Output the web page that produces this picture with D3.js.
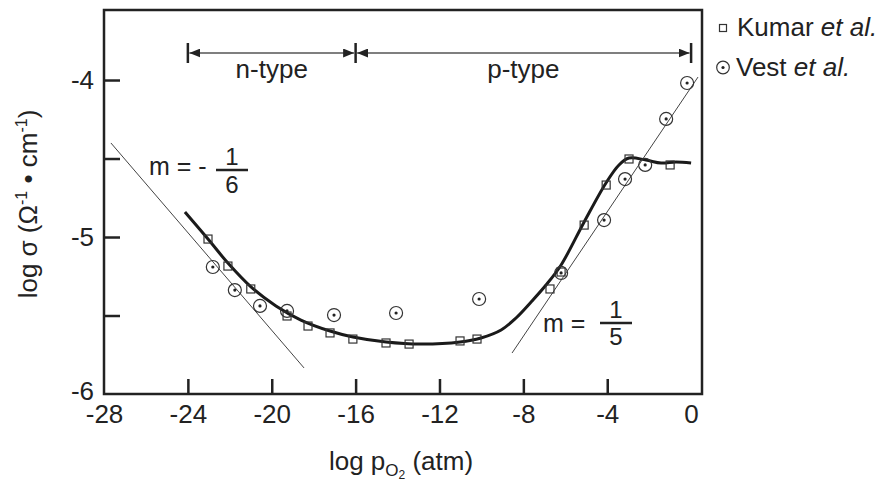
<!DOCTYPE html>
<html>
<head>
  <meta charset="UTF-8">
  <script src="https://d3js.org/d3.v7.min.js"></script>
  <style>
    body { margin: 0; background: #fff; }
    text { font-family: "Liberation Sans", Arial, sans-serif; fill: #222; }
  </style>
</head>
<body>
  <svg width="891" height="483" id="chart">
    <defs>
      <marker id="head" markerWidth="11" markerHeight="9" refX="11" refY="4.5" orient="auto-start-reverse" markerUnits="userSpaceOnUse">
        <path d="M 0 0 L 11 4.5 L 0 9 Z" fill="#222" />
      </marker>
    </defs>
  </svg>

  <script>
    // data
    let xTicks = [-28, -24, -20, -16, -12, -8, -4, 0];
    let yTicks = [-6, -5.5, -5, -4.5, -4];

    let kumarX = [-23.04, -22.09, -21.0, -19.27, -18.27, -17.22, -16.13, -14.55, -13.45, -11.02, -10.21, -6.73, -6.20, -5.10, -4.05, -2.96, -1.00];
    let kumarY = [-5.013, -5.185, -5.331, -5.503, -5.567, -5.611, -5.650, -5.675, -5.682, -5.662, -5.650, -5.331, -5.223, -4.924, -4.669, -4.503, -4.541];

    let vestX = [-22.81, -21.76, -20.56, -19.27, -17.03, -14.07, -10.11, -6.20, -4.15, -3.15, -2.19, -1.19, -0.19];
    let vestY = [-5.191, -5.338, -5.439, -5.471, -5.497, -5.484, -5.395, -5.229, -4.892, -4.631, -4.541, -4.248, -4.019];

    // thick fitted curve
    let fitX = [-24.14, -23.04, -22.09, -20.99, -19.80, -18.61, -17.22, -16.13, -14.55, -12.88, -11.02, -10.02, -9.06, -8.35, -7.63, -6.92, -6.20, -5.10, -4.06, -3.44, -2.96, -2.15, -1.43, -0.72, 0];
    let fitY = [-4.841, -5.013, -5.166, -5.318, -5.439, -5.529, -5.599, -5.637, -5.669, -5.682, -5.669, -5.643, -5.592, -5.516, -5.414, -5.306, -5.178, -4.904, -4.656, -4.541, -4.497, -4.510, -4.529, -4.522, -4.529];

    // slope lines
    let nLineX = [-27.67, -18.46];
    let nLineY = [-4.401, -5.834];
    let pLineX = [-8.54, 0.33];
    let pLineY = [-5.739, -3.981];

    let regionBounds = [-24, -16, 0];
    let regionNames = ["n-type", "p-type"];

    let svg = d3.select("#chart");
    let plotLeft = 104, plotRight = 702, plotTop = 10, plotBottom = 394;

    let x = d3.scaleLinear().domain([-28, 0.52]).range([plotLeft, plotRight]);
    let y = d3.scaleLinear().domain([-6, -3.554]).range([plotBottom, plotTop]);

    // axes (ticks point inward)
    let xAxis = svg.append("g")
      .attr("transform", `translate(0, ${plotBottom})`)
      .call(d3.axisBottom(x).tickValues(xTicks).tickSizeInner(-15).tickSizeOuter(0).tickPadding(11).tickFormat(d => d));
    xAxis.select(".domain").remove();
    xAxis.selectAll(".tick").filter(d => d == -28 || d == 0).select("line").remove();

    let yAxis = svg.append("g")
      .attr("transform", `translate(${plotLeft}, 0)`)
      .call(d3.axisLeft(y).tickValues(yTicks).tickSizeInner(-16).tickSizeOuter(0).tickPadding(10)
        .tickFormat(d => Number.isInteger(d) ? d : ""));
    yAxis.select(".domain").remove();
    let bottomTick = yAxis.selectAll(".tick").filter(d => d == -6);
    bottomTick.select("line").remove();
    bottomTick.select("text").attr("y", -3);

    svg.selectAll(".tick line").attr("stroke", "#222").attr("stroke-width", 2.5);
    svg.selectAll(".tick text").attr("font-size", 26).attr("fill", "#222")
      .style("font-family", '"Liberation Sans", Arial, sans-serif');

    // frame
    svg.append("rect")
      .attr("x", plotLeft).attr("y", plotTop)
      .attr("width", plotRight - plotLeft).attr("height", plotBottom - plotTop)
      .attr("fill", "none").attr("stroke", "#222").attr("stroke-width", 2.5);

    // slope lines
    let plain = d3.line().x(d => x(d[0])).y(d => y(d[1]));
    svg.append("path")
      .attr("d", plain(d3.zip(nLineX, nLineY)))
      .attr("fill", "none").attr("stroke", "#444").attr("stroke-width", 1);
    svg.append("path")
      .attr("d", plain(d3.zip(pLineX, pLineY)))
      .attr("fill", "none").attr("stroke", "#444").attr("stroke-width", 1);

    // thick curve
    let smooth = d3.line().x(d => x(d[0])).y(d => y(d[1])).curve(d3.curveCatmullRom);
    svg.append("path")
      .attr("d", smooth(d3.zip(fitX, fitY)))
      .attr("fill", "none").attr("stroke", "#1a1a1a").attr("stroke-width", 3);

    // Kumar squares
    svg.selectAll(".kumar")
      .data(d3.zip(kumarX, kumarY))
      .enter()
      .append("rect")
      .attr("class", "kumar")
      .attr("x", d => x(d[0]) - 4)
      .attr("y", d => y(d[1]) - 4)
      .attr("width", 8).attr("height", 8)
      .attr("fill", "none").attr("stroke", "#333").attr("stroke-width", 1.2);

    // Vest circles with centre dot
    let vest = svg.selectAll(".vest")
      .data(d3.zip(vestX, vestY))
      .enter()
      .append("g")
      .attr("class", "vest")
      .attr("transform", d => `translate(${x(d[0])}, ${y(d[1])})`);
    vest.append("circle").attr("r", 6.5).attr("fill", "none").attr("stroke", "#333").attr("stroke-width", 1.2);
    vest.append("circle").attr("r", 1.6).attr("fill", "#222");

    // n-type / p-type range arrows
    let arrowY = 53;
    svg.selectAll(".bound")
      .data(regionBounds)
      .enter()
      .append("line")
      .attr("x1", d => x(d)).attr("x2", d => x(d))
      .attr("y1", arrowY - 10).attr("y2", arrowY + 10)
      .attr("stroke", "#222").attr("stroke-width", 2.5);

    regionNames.forEach(function(name, i) {
      let a = x(regionBounds[i]) + 1.5, b = x(regionBounds[i + 1]) - 1.5;
      svg.append("line")
        .attr("x1", a).attr("x2", b)
        .attr("y1", arrowY).attr("y2", arrowY)
        .attr("stroke", "#555").attr("stroke-width", 1.5)
        .attr("marker-start", "url(#head)")
        .attr("marker-end", "url(#head)");
      svg.append("text")
        .attr("x", (x(regionBounds[i]) + x(regionBounds[i + 1])) / 2)
        .attr("y", 78)
        .attr("text-anchor", "middle")
        .attr("font-size", 26)
        .text(name);
    });

    // slope labels
    function slopeLabel(tx, ty, prefix, fx, num, numY, barY, den, denY) {
      let g = svg.append("g");
      g.append("text").attr("x", tx).attr("y", ty).attr("font-size", 25).text(prefix);
      g.append("line").attr("x1", fx - 16).attr("x2", fx + 16)
        .attr("y1", barY).attr("y2", barY)
        .attr("stroke", "#222").attr("stroke-width", 2.5);
      g.append("text").attr("x", fx).attr("y", numY).attr("text-anchor", "middle").attr("font-size", 24).text(num);
      g.append("text").attr("x", fx).attr("y", denY).attr("text-anchor", "middle").attr("font-size", 24).text(den);
    }
    slopeLabel(149, 175, "m = -", 232, "1", 165, 170, "6", 193);
    slopeLabel(543, 332, "m =", 616, "1", 318, 323, "5", 345);

    // legend
    svg.append("rect").attr("x", 719.5).attr("y", 24.5).attr("width", 7).attr("height", 7)
      .attr("fill", "none").attr("stroke", "#333").attr("stroke-width", 1.2);
    let kt = svg.append("text").attr("x", 737).attr("y", 36).attr("font-size", 26);
    kt.append("tspan").text("Kumar ");
    kt.append("tspan").attr("font-style", "italic").text("et al.");

    svg.append("circle").attr("cx", 723).attr("cy", 67.5).attr("r", 6.3)
      .attr("fill", "none").attr("stroke", "#333").attr("stroke-width", 1.2);
    svg.append("circle").attr("cx", 723).attr("cy", 67.5).attr("r", 1.6).attr("fill", "#222");
    let vt = svg.append("text").attr("x", 736).attr("y", 76).attr("font-size", 26);
    vt.append("tspan").text("Vest ");
    vt.append("tspan").attr("font-style", "italic").text("et al.");

    // axis titles
    let xt = svg.append("text").attr("x", 401).attr("y", 470).attr("text-anchor", "middle").attr("font-size", 26);
    xt.append("tspan").text("log p");
    xt.append("tspan").attr("font-size", 17).attr("dy", 6).text("O");
    xt.append("tspan").attr("font-size", 12).attr("dy", 3).text("2");
    xt.append("tspan").attr("dy", -9).text(" (atm)");

    let yt = svg.append("text")
      .attr("transform", "translate(37, 204) rotate(-90)")
      .attr("text-anchor", "middle").attr("font-size", 26);
    yt.append("tspan").text("log σ (Ω");
    yt.append("tspan").attr("font-size", 16).attr("dy", -10).text("-1");
    yt.append("tspan").attr("dy", 10).text(" • cm");
    yt.append("tspan").attr("font-size", 16).attr("dy", -10).text("-1");
    yt.append("tspan").attr("dy", 10).text(")");
  </script>
</body>
</html>
